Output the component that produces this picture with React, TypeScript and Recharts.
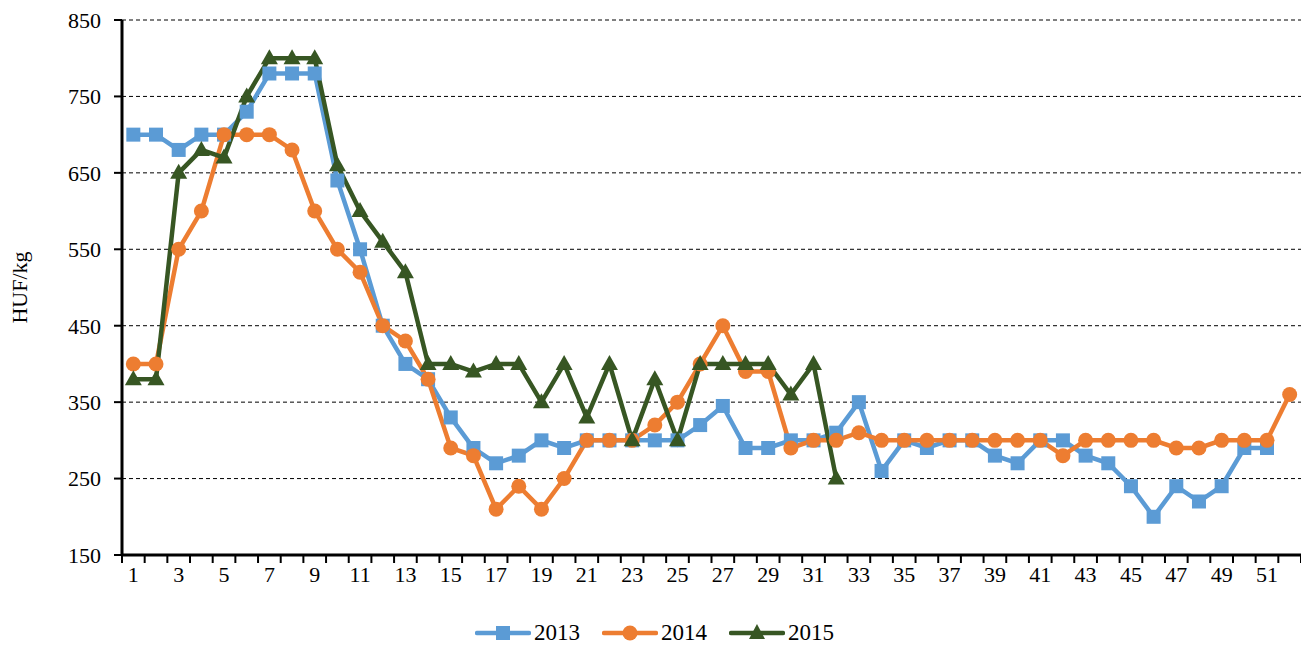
import { CartesianGrid, Legend, Line, LineChart, XAxis, YAxis } from "recharts";

const weeks = [
  1, 2, 3, 4, 5, 6, 7, 8, 9, 10, 11, 12, 13, 14, 15, 16, 17, 18, 19, 20, 21, 22, 23, 24, 25, 26,
  27, 28, 29, 30, 31, 32, 33, 34, 35, 36, 37, 38, 39, 40, 41, 42, 43, 44, 45, 46, 47, 48, 49, 50, 51, 52,
];

const price2013 = [
  700, 700, 680, 700, 700, 730, 780, 780, 780, 640, 550, 450, 400, 380, 330, 290, 270, 280, 300, 290,
  300, 300, 300, 300, 300, 320, 345, 290, 290, 300, 300, 310, 350, 260, 300, 290, 300, 300, 280, 270,
  300, 300, 280, 270, 240, 200, 240, 220, 240, 290, 290, null,
];

const price2014 = [
  400, 400, 550, 600, 700, 700, 700, 680, 600, 550, 520, 450, 430, 380, 290, 280, 210, 240, 210, 250,
  300, 300, 300, 320, 350, 400, 450, 390, 390, 290, 300, 300, 310, 300, 300, 300, 300, 300, 300, 300,
  300, 280, 300, 300, 300, 300, 290, 290, 300, 300, 300, 360,
];

const price2015 = [
  380, 380, 650, 680, 670, 750, 800, 800, 800, 660, 600, 560, 520, 400, 400, 390, 400, 400, 350, 400,
  330, 400, 300, 380, 300, 400, 400, 400, 400, 360, 400, 250,
];

const yTicks = [150, 250, 350, 450, 550, 650, 750, 850];

const data = weeks.map((w, i) => ({
  week: w,
  y2013: price2013[i] ?? null,
  y2014: price2014[i] ?? null,
  y2015: price2015[i] ?? null,
}));

const BLUE = "#5B9BD5";
const ORANGE = "#ED7D31";
const GREEN = "#375623";
const FONT = "'Liberation Serif', 'Times New Roman', serif";

const WIDTH = 1301;
const HEIGHT = 637;
const Y_AXIS_W = 114;
const MARGIN_RIGHT = 8;
const BAND = (WIDTH - Y_AXIS_W - MARGIN_RIGHT) / weeks.length;

const square = (color: string) => (p: any) => {
  if (p.cx == null || p.cy == null || p.value == null) return <g key={`s${p.index}`} />;
  return <rect key={`s${p.index}`} x={p.cx - 7} y={p.cy - 7} width={14} height={14} fill={color} />;
};

const circle = (color: string) => (p: any) => {
  if (p.cx == null || p.cy == null || p.value == null) return <g key={`c${p.index}`} />;
  return <circle key={`c${p.index}`} cx={p.cx} cy={p.cy} r={7.5} fill={color} />;
};

const triangle = (color: string) => (p: any) => {
  if (p.cx == null || p.cy == null || p.value == null) return <g key={`t${p.index}`} />;
  const { cx, cy } = p;
  return (
    <path
      key={`t${p.index}`}
      d={`M${cx},${cy - 9} L${cx + 8.5},${cy + 6} L${cx - 8.5},${cy + 6} Z`}
      fill={color}
    />
  );
};

const WeekTick = (props: any) => {
  const { x, y, payload, index } = props;
  const half = BAND / 2;
  const v = Number(payload.value);
  return (
    <g>
      <line x1={x - half} x2={x - half} y1={y} y2={y + 8} stroke="#000" strokeWidth={2} />
      {index === weeks.length - 1 && (
        <line x1={x + half} x2={x + half} y1={y} y2={y + 8} stroke="#000" strokeWidth={2} />
      )}
      {v % 2 === 1 && (
        <text x={x} y={y + 27} textAnchor="middle" fontFamily={FONT} fontSize={22} fill="#000">
          {v}
        </text>
      )}
    </g>
  );
};

const legendItems = [
  { name: "2013", color: BLUE, marker: "square" },
  { name: "2014", color: ORANGE, marker: "circle" },
  { name: "2015", color: GREEN, marker: "triangle" },
];

const renderLegend = () => (
  <div
    style={{
      height: 24,
      display: "flex",
      justifyContent: "center",
      alignItems: "center",
      gap: 22,
      fontFamily: FONT,
      fontSize: 23,
      color: "#000",
    }}
  >
    {legendItems.map((it) => (
      <div key={it.name} style={{ display: "flex", alignItems: "center", gap: 3 }}>
        <svg width={56} height={20}>
          <line x1={2} x2={54} y1={10} y2={10} stroke={it.color} strokeWidth={4.5} strokeLinecap="round" />
          {it.marker === "square" && <rect x={21} y={3} width={14} height={14} fill={it.color} />}
          {it.marker === "circle" && <circle cx={28} cy={10} r={7.5} fill={it.color} />}
          {it.marker === "triangle" && <path d="M28,1 L36,16 L20,16 Z" fill={it.color} />}
        </svg>
        <span style={{ lineHeight: "24px" }}>{it.name}</span>
      </div>
    ))}
  </div>
);

export default function App() {
  return (
    <div style={{ width: WIDTH, height: HEIGHT }}>
      <style>{"html,body{overflow:hidden}"}</style>
      <LineChart
        width={WIDTH}
        height={HEIGHT}
        data={data}
        margin={{ top: 12, right: MARGIN_RIGHT, left: 0, bottom: 0 }}
      >
        <CartesianGrid vertical={false} stroke="#000" strokeDasharray="4 3" />
        <XAxis
          dataKey="week"
          interval={0}
          height={66}
          padding={{ left: BAND / 2, right: BAND / 2 }}
          axisLine={{ stroke: "#000", strokeWidth: 3 }}
          tickLine={false}
          tickSize={0}
          tickMargin={0}
          tick={<WeekTick />}
        />
        <YAxis
          width={Y_AXIS_W}
          domain={[150, 850]}
          ticks={yTicks}
          interval={0}
          axisLine={{ stroke: "#000", strokeWidth: 3 }}
          tickLine={{ stroke: "#000", strokeWidth: 2 }}
          tickSize={8}
          tickMargin={13}
          tick={{ fontFamily: FONT, fontSize: 22, fill: "#000" }}
          label={{
            value: "HUF/kg",
            angle: -90,
            position: "center",
            dx: -46,
            style: { fontFamily: FONT, fontSize: 22, fill: "#000" },
          }}
        />
        <Legend verticalAlign="bottom" content={renderLegend} />
        <Line
          dataKey="y2013"
          name="2013"
          stroke={BLUE}
          strokeWidth={4.5}
          dot={square(BLUE)}
          activeDot={false}
          isAnimationActive={false}
        />
        <Line
          dataKey="y2014"
          name="2014"
          stroke={ORANGE}
          strokeWidth={4.5}
          dot={circle(ORANGE)}
          activeDot={false}
          isAnimationActive={false}
        />
        <Line
          dataKey="y2015"
          name="2015"
          stroke={GREEN}
          strokeWidth={4.5}
          dot={triangle(GREEN)}
          activeDot={false}
          isAnimationActive={false}
        />
      </LineChart>
    </div>
  );
}
